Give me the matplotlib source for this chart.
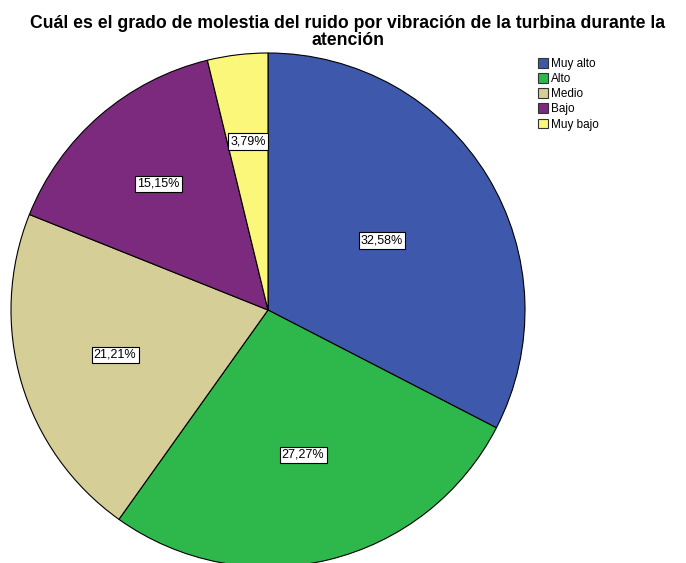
import matplotlib.pyplot as plt
from matplotlib.patches import Patch
import numpy as np

plt.rcParams["font.family"] = ["Liberation Sans", "DejaVu Sans"]

title = "Cuál es el grado de molestia del ruido por vibración de la turbina durante la\natención"
categories = ["Muy alto", "Alto", "Medio", "Bajo", "Muy bajo"]
percentages = [32.58, 27.27, 21.21, 15.15, 3.79]
colors = ["#3E58AC", "#2EB84B", "#D5CE97", "#7B2A7D", "#FBF77A"]
# radial position of each percentage label (fraction of radius)
label_dist = [0.52, 0.58, 0.62, 0.65, 0.66]

W, H = 686, 563
fig = plt.figure(figsize=(W / 100, H / 100), dpi=100)
ax = fig.add_axes([0, 0, 1, 1])

cx, cy, r = 268, H - 310, 257
wedges, _ = ax.pie(percentages, colors=colors, startangle=90, counterclock=False,
                   center=(cx, cy), radius=r, frame=True,
                   wedgeprops=dict(edgecolor="black", linewidth=0.8))
ax.set_xlim(0, W)
ax.set_ylim(0, H)
ax.set_aspect("auto")
ax.axis("off")

for w, pct, d in zip(wedges, percentages, label_dist):
    ang = np.deg2rad((w.theta1 + w.theta2) / 2)
    x = cx + d * r * np.cos(ang)
    y = cy + d * r * np.sin(ang)
    ax.text(x, y, f"{pct:.2f}%".replace(".", ","), ha="center", va="center",
            fontsize=9,
            bbox=dict(boxstyle="square,pad=0.18", facecolor="white",
                      edgecolor="black", linewidth=0.8))

fig.text(0.507, 0.974, title, ha="center", va="top", fontsize=12.7,
         fontweight="bold", linespacing=1.02)

handles = [Patch(facecolor=c, edgecolor="#333333", linewidth=0.8) for c in colors]
fig.legend(handles, categories, loc="upper left", bbox_to_anchor=(0.775, 0.907),
           frameon=False, fontsize=8.5, handlelength=0.85, handleheight=0.9,
           handletextpad=0.3, labelspacing=0.26, borderpad=0)

fig.savefig("out.png", dpi=100, facecolor="white")
